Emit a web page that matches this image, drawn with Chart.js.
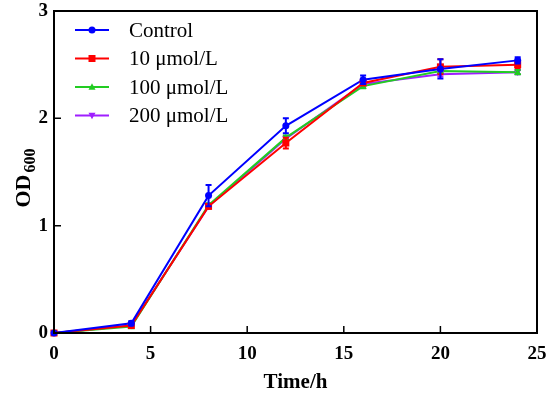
<!DOCTYPE html>
<html><head><meta charset="utf-8">
<script src="https://cdn.jsdelivr.net/npm/chart.js@4/dist/chart.umd.min.js"></script>
<style>html,body{margin:0;padding:0;background:#fff}#wrap{width:550px;height:396px}</style>
</head><body><div id="wrap"><canvas id="c" width="550" height="396"></canvas></div>
<script>
const times = [0, 4, 8, 12, 16, 20, 24];
const seriesLabels = ['Control', '10 μmol/L', '100 μmol/L', '200 μmol/L'];
const control = [0.00, 0.09, 1.28, 1.93, 2.36, 2.46, 2.54];
const c10 = [0.00, 0.07, 1.18, 1.77, 2.33, 2.48, 2.50];
const c100 = [0.00, 0.06, 1.19, 1.82, 2.30, 2.44, 2.43];
const c200 = [0.00, 0.07, 1.18, 1.81, 2.32, 2.41, 2.43];
const errControl = [0.01, 0.02, 0.10, 0.07, 0.04, 0.09, 0.03];
const err10 = [0.01, 0.01, 0.02, 0.05, 0.02, 0.07, 0.03];
const err100 = [0.01, 0.01, 0.02, 0.02, 0.02, 0.02, 0.02];
const err200 = [0.01, 0.01, 0.02, 0.02, 0.02, 0.02, 0.02];
const xTicks = [0, 5, 10, 15, 20, 25];
const yTicks = [0, 1, 2, 3];

const colors = ['#0000ff', '#ff0000', '#22cc22', '#9f1fff'];
const shapes = ['circle', 'rect', 'triangle', 'invtri'];
const values = [control, c10, c100, c200];
const errs = [errControl, err10, err100, err200];
const FONT = '"Liberation Serif", "Times New Roman", serif';

function drawMarker(ctx, shape, x, y, r, color) {
  ctx.save();
  ctx.fillStyle = color;
  ctx.beginPath();
  if (shape === 'circle') ctx.arc(x, y, r, 0, Math.PI * 2);
  else if (shape === 'rect') ctx.rect(x - r, y - r, 2 * r, 2 * r);
  else if (shape === 'triangle') { ctx.moveTo(x, y - r * 1.1); ctx.lineTo(x + r, y + r * 0.8); ctx.lineTo(x - r, y + r * 0.8); ctx.closePath(); }
  else { ctx.moveTo(x, y + r * 1.1); ctx.lineTo(x + r, y - r * 0.8); ctx.lineTo(x - r, y - r * 0.8); ctx.closePath(); }
  ctx.fill();
  ctx.restore();
}

const datasets = values.map((v, i) => ({
  label: seriesLabels[i],
  data: times.map((t, k) => ({x: t, y: v[k]})),
  borderColor: colors[i],
  backgroundColor: colors[i],
  borderWidth: 2,
  pointRadius: 0,
  fill: false,
  tension: 0
}));

const custom = {
  id: 'custom',
  afterDatasetsDraw(chart) {
    const ctx = chart.ctx, xs = chart.scales.x, ys = chart.scales.y;
    for (let i = values.length - 1; i >= 0; i--) {
      ctx.save();
      ctx.strokeStyle = colors[i];
      ctx.lineWidth = 2;
      times.forEach((t, k) => {
        const px = xs.getPixelForValue(t);
        const y1 = ys.getPixelForValue(values[i][k] + errs[i][k]);
        const y2 = ys.getPixelForValue(values[i][k] - errs[i][k]);
        ctx.beginPath();
        ctx.moveTo(px, y1); ctx.lineTo(px, y2);
        ctx.moveTo(px - 3, y1); ctx.lineTo(px + 3, y1);
        ctx.moveTo(px - 3, y2); ctx.lineTo(px + 3, y2);
        ctx.stroke();
        drawMarker(ctx, shapes[i], px, ys.getPixelForValue(values[i][k]), 3.5, colors[i]);
      });
      ctx.restore();
    }
    // frame
    const a = chart.chartArea;
    ctx.save();
    ctx.strokeStyle = '#000';
    ctx.lineWidth = 2;
    ctx.strokeRect(a.left, a.top, a.right - a.left, a.bottom - a.top);
    ctx.lineWidth = 1.5;
    ctx.beginPath();
    xTicks.forEach(t => { const px = xs.getPixelForValue(t); ctx.moveTo(px, a.bottom); ctx.lineTo(px, a.bottom - 7); });
    yTicks.forEach(t => { const py = ys.getPixelForValue(t); ctx.moveTo(a.left, py); ctx.lineTo(a.left + 7, py); });
    ctx.stroke();
    // legend
    ctx.font = '21px ' + FONT;
    ctx.textBaseline = 'middle';
    ctx.textAlign = 'left';
    seriesLabels.forEach((lab, i) => {
      const y = 30 + i * 28.5;
      ctx.strokeStyle = colors[i];
      ctx.lineWidth = 2;
      ctx.beginPath(); ctx.moveTo(75, y); ctx.lineTo(109, y); ctx.stroke();
      drawMarker(ctx, shapes[i], 92, y, 3.5, colors[i]);
      ctx.fillStyle = '#000';
      ctx.fillText(lab, 129, y + 1);
    });
    // y title
    ctx.save();
    ctx.translate(22, 177);
    ctx.rotate(-Math.PI / 2);
    ctx.fillStyle = '#000';
    ctx.font = 'bold 22px ' + FONT;
    const w1 = ctx.measureText('OD').width;
    ctx.font = 'bold 16px ' + FONT;
    const w2 = ctx.measureText('600').width;
    const start = -(w1 + w2 + 4) / 2;
    ctx.font = 'bold 22px ' + FONT;
    ctx.textBaseline = 'alphabetic';
    ctx.fillText('OD', start, 8);
    ctx.font = 'bold 16px ' + FONT;
    ctx.fillText('600', start + w1 + 2, 13);
    ctx.restore();
    ctx.restore();
  }
};

new Chart(document.getElementById('c'), {
  type: 'line',
  data: {datasets},
  options: {
    responsive: false,
    animation: false,
    layout: {padding: {left: 0, right: 13, top: 11, bottom: 0}},
    plugins: {legend: {display: false}, tooltip: {enabled: false}},
    scales: {
      x: {
        type: 'linear', min: 0, max: 25,
        afterBuildTicks: s => { s.ticks = xTicks.map(v => ({value: v})); },
        afterFit: s => { s.height = 63; s.paddingLeft = 0; s.paddingRight = 0; },
        grid: {display: false, drawTicks: false},
        border: {display: false},
        ticks: {color: '#000', padding: 10, font: {family: FONT, size: 19, weight: 'bold'}, maxRotation: 0},
        title: {display: true, text: 'Time/h', color: '#000', padding: {top: 2, bottom: 1}, font: {family: FONT, size: 21, weight: 'bold'}}
      },
      y: {
        type: 'linear', min: 0, max: 3,
        afterBuildTicks: s => { s.ticks = yTicks.map(v => ({value: v})); },
        afterFit: s => { s.width = 54; s.paddingTop = 0; s.paddingBottom = 0; },
        grid: {display: false, drawTicks: false},
        border: {display: false},
        ticks: {color: '#000', padding: 6, font: {family: FONT, size: 19, weight: 'bold'}}
      }
    }
  },
  plugins: [custom]
});
</script></body></html>
